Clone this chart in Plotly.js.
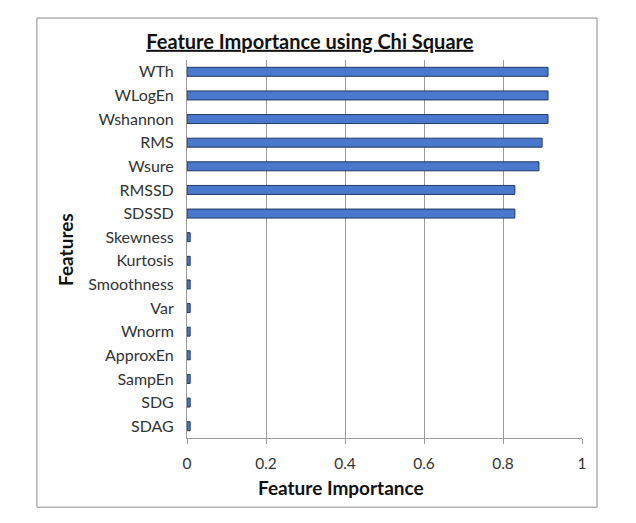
<!DOCTYPE html>
<html>
<head>
<meta charset="utf-8">
<script src="https://cdn.plot.ly/plotly-3.0.1.min.js"></script>
<style>
  html, body { margin: 0; padding: 0; background: #fff; }
  #grafico { width: 636px; height: 523px; }
</style>
</head>
<body>
<div id="grafico"></div>
<script>
// caracteristicas de arriba hacia abajo, como en la imagen
const caracteristicas = ['WTh', 'WLogEn', 'Wshannon', 'RMS', 'Wsure', 'RMSSD', 'SDSSD', 'Skewness',
  'Kurtosis', 'Smoothness', 'Var', 'Wnorm', 'ApproxEn', 'SampEn', 'SDG', 'SDAG'];
const importancia = [0.914, 0.914, 0.914, 0.899, 0.891, 0.830, 0.830, 0.008,
  0.008, 0.008, 0.008, 0.008, 0.008, 0.008, 0.008, 0.008];
const ticksX = [0, 0.2, 0.4, 0.6, 0.8, 1];

const fuente = 'Lato, "Open Sans", sans-serif';

const traza = {
  type: 'bar',
  orientation: 'h',
  x: importancia,
  y: caracteristicas,
  marker: { color: '#4a78cc', line: { color: '#1f3864', width: 1 } },
  hoverinfo: 'x+y'
};

const layout = {
  width: 636,
  height: 523,
  margin: { l: 187, r: 54, t: 60, b: 85 },
  paper_bgcolor: '#fff',
  plot_bgcolor: '#fff',
  showlegend: false,
  bargap: 0.62,
  font: { family: fuente, color: '#333', size: 13 },
  title: {
    text: '<b>Feature Importance using Chi Square</b>',
    font: { family: fuente, size: 20, color: '#111', lineposition: 'under' },
    x: 0.311, xref: 'paper', xanchor: 'center', y: 0.92, yanchor: 'middle'
  },
  xaxis: {
    range: [0, 1],
    tickvals: ticksX,
    ticktext: ticksX.map(String),
    showgrid: true,
    gridcolor: '#9a9a9a',
    gridwidth: 1,
    zeroline: false,
    showline: true,
    linecolor: '#9a9a9a',
    ticks: 'outside',
    ticklen: 5,
    tickcolor: '#9a9a9a',
    tickfont: { size: 15.5, color: '#333' },
    ticklabelstandoff: 6,
    fixedrange: true
  },
  yaxis: {
    autorange: 'reversed',
    showgrid: false,
    zeroline: false,
    showline: true,
    linecolor: '#9a9a9a',
    ticks: '',
    ticklabelstandoff: 9,
    tickfont: { size: 16, color: '#333' },
    fixedrange: true
  },
  annotations: [
    {
      text: '<b>Feature Importance</b>', xref: 'paper', yref: 'paper',
      x: 0.39, y: -0.132, xanchor: 'center', yanchor: 'middle', showarrow: false,
      font: { size: 19, color: '#111' }
    },
    {
      text: '<b>Features</b>', xref: 'paper', yref: 'paper', textangle: -90,
      x: -0.309, y: 0.5, xanchor: 'center', yanchor: 'middle', showarrow: false,
      font: { size: 19, color: '#111' }
    }
  ],
  shapes: [{
    type: 'rect', xref: 'paper', yref: 'paper',
    x0: -0.380, x1: 1.038, y0: -0.183, y1: 1.111,
    line: { color: '#8c8c8c', width: 1 }, fillcolor: 'rgba(0,0,0,0)'
  }]
};

Plotly.newPlot('grafico', [traza], layout, { displayModeBar: false, responsive: false });
</script>
</body>
</html>
